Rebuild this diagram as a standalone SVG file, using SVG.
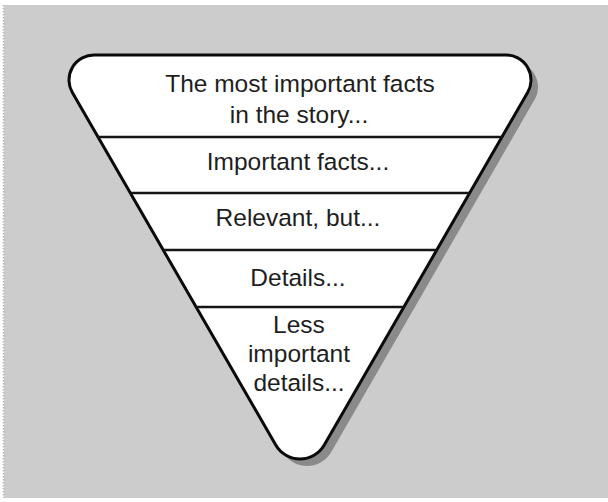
<svg xmlns="http://www.w3.org/2000/svg" width="608" height="502" viewBox="0 0 608 502">
<style>
.lbl{font-family:"Liberation Sans",Arial,Helvetica,sans-serif;font-size:24.5px;fill:#1e1e1e;text-anchor:middle}
.div{stroke:#151515;stroke-width:2.5;fill:none}
.edge{fill:#ffffff;stroke:#0a0a0a;stroke-width:3;stroke-linejoin:round}
</style>
<defs>
<path id="tri" d="M94,55 L506,55 A25,25 0 0 1 527.65,92.5 L324.25,445 A28,28 0 0 1 275.75,445 L72.35,92.5 A25,25 0 0 1 94,55 Z"/>
</defs>
<rect x="0" y="0" width="608" height="502" fill="#ffffff"/>
<rect x="4" y="5" width="604" height="493" fill="#cccccc"/>
<line x1="3.5" y1="5" x2="3.5" y2="498" stroke="#b5b5b5" stroke-width="1.5" stroke-dasharray="1.5 1.5"/>
<g id="pyramid">
<use href="#tri" transform="translate(7,7)" fill="#8a8a8a"/>
<use href="#tri" class="edge"/>
</g>
<g id="connectors">
<line class="div" x1="98" y1="137" x2="502" y2="137"/>
<line class="div" x1="130.3" y1="193" x2="469.7" y2="193"/>
<line class="div" x1="163.2" y1="250" x2="436.8" y2="250"/>
<line class="div" x1="196.1" y1="307" x2="403.9" y2="307"/>
</g>
<g id="level1"><text class="lbl" x="300" y="92">The most important facts</text><text class="lbl" x="299" y="123">in the story...</text></g>
<g id="level2"><text class="lbl" x="298" y="170">Important facts...</text></g>
<g id="level3"><text class="lbl" x="298" y="226">Relevant, but...</text></g>
<g id="level4"><text class="lbl" x="298" y="286">Details...</text></g>
<g id="level5"><text class="lbl" x="299" y="333">Less</text><text class="lbl" x="299" y="362">important</text><text class="lbl" x="299" y="391">details...</text></g>
</svg>
